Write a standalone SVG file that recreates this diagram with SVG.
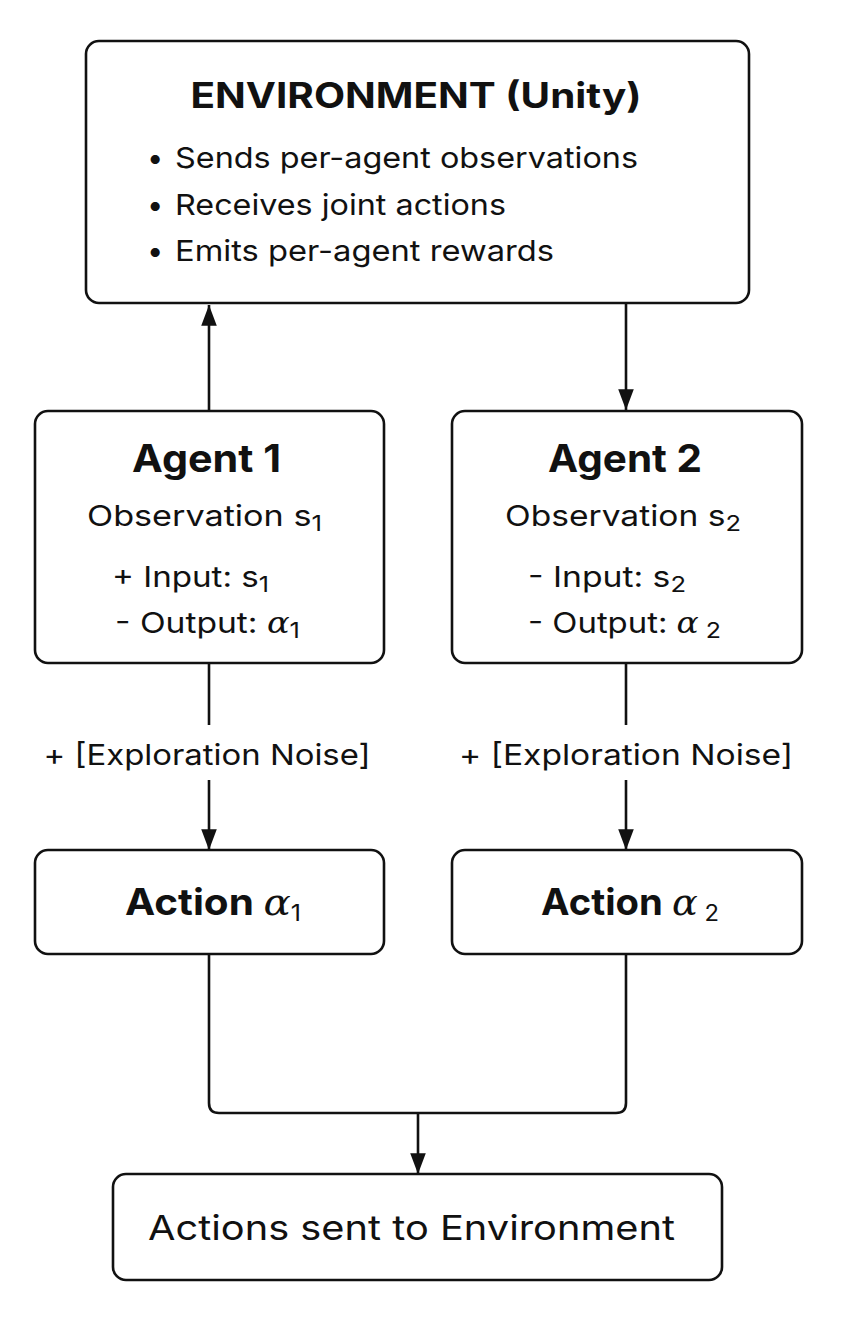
<svg xmlns="http://www.w3.org/2000/svg" width="857" height="1317" viewBox="0 0 857 1317">
<defs>
<marker id="arr" viewBox="0 0 10 10" refX="10" refY="5" markerWidth="8" markerHeight="6" markerUnits="strokeWidth" orient="auto" preserveAspectRatio="none">
<path d="M0,0 L10,5 L0,10 z" fill="#111"/>
</marker>
<style>
.box{fill:#fff;stroke:#111;stroke-width:2.6}
.ln{fill:none;stroke:#111;stroke-width:2.6}
text{font-family:Inter,"Liberation Sans",sans-serif;fill:#111}
.t{font-weight:700}
.b{font-size:29px}
.m{font-size:29px}
.it{font-style:italic;font-family:"DejaVu Serif","Liberation Serif",serif}
</style>
</defs>
<rect width="857" height="1317" fill="#fff"/>
<g id="connectors">
<line class="ln" x1="209" y1="411" x2="209" y2="305" marker-end="url(#arr)"/>
<line class="ln" x1="626" y1="303" x2="626" y2="410" marker-end="url(#arr)"/>
<line class="ln" x1="209" y1="663" x2="209" y2="725"/>
<line class="ln" x1="209" y1="780" x2="209" y2="850" marker-end="url(#arr)"/>
<line class="ln" x1="626" y1="663" x2="626" y2="725"/>
<line class="ln" x1="626" y1="780" x2="626" y2="850" marker-end="url(#arr)"/>
<path class="ln" d="M209,954 V1103 Q209,1113 219,1113 H616 Q626,1113 626,1103 V954"/>
<line class="ln" x1="418" y1="1113" x2="418" y2="1174" marker-end="url(#arr)"/>
<text x="207" y="765" class="b" text-anchor="middle" textLength="327" lengthAdjust="spacingAndGlyphs">+ [Exploration Noise]</text>
<text x="626" y="765" class="b" text-anchor="middle" textLength="334" lengthAdjust="spacingAndGlyphs">+ [Exploration Noise]</text>
</g>
<g id="environment">
<rect class="box" x="86" y="41" width="663" height="262" rx="13"/>
<text x="416" y="108" class="t" font-size="35" text-anchor="middle" textLength="451" lengthAdjust="spacingAndGlyphs">ENVIRONMENT (Unity)</text>
<text x="147" y="168" class="b">•</text>
<text x="175" y="168" class="b" textLength="463" lengthAdjust="spacingAndGlyphs">Sends per-agent observations</text>
<text x="147" y="215" class="b">•</text>
<text x="175" y="215" class="b" textLength="331" lengthAdjust="spacingAndGlyphs">Receives joint actions</text>
<text x="147" y="261" class="b">•</text>
<text x="175" y="261" class="b" textLength="379" lengthAdjust="spacingAndGlyphs">Emits per-agent rewards</text>
</g>
<g id="agent1">
<rect class="box" x="35" y="411" width="349" height="252" rx="13"/>
<text x="132" y="472" class="t" font-size="38" textLength="149" lengthAdjust="spacingAndGlyphs">Agent 1</text>
<text x="87" y="526" class="m" textLength="235" lengthAdjust="spacingAndGlyphs">Observation s<tspan font-size="22" dy="5">1</tspan></text>
<text x="112" y="587" class="m" textLength="157" lengthAdjust="spacingAndGlyphs">+ Input: s<tspan font-size="22" dy="5">1</tspan></text>
<text x="115" y="633" class="m" textLength="185" lengthAdjust="spacingAndGlyphs">- Output: <tspan class="it">α</tspan><tspan font-size="22" dy="5">1</tspan></text>
</g>
<g id="agent2">
<rect class="box" x="452" y="411" width="350" height="252" rx="13"/>
<text x="548" y="472" class="t" font-size="38" textLength="154" lengthAdjust="spacingAndGlyphs">Agent 2</text>
<text x="505" y="526" class="m" textLength="236" lengthAdjust="spacingAndGlyphs">Observation s<tspan font-size="22" dy="5">2</tspan></text>
<text x="528" y="587" class="m" textLength="158" lengthAdjust="spacingAndGlyphs">- Input: s<tspan font-size="22" dy="5">2</tspan></text>
<text x="528" y="633" class="m" textLength="193" lengthAdjust="spacingAndGlyphs">- Output: <tspan class="it">α</tspan><tspan font-size="22" dy="5"> 2</tspan></text>
</g>
<g id="action1">
<rect class="box" x="35" y="850" width="349" height="104" rx="13"/>
<text x="125" y="915" class="t" font-size="37" textLength="176" lengthAdjust="spacingAndGlyphs">Action <tspan class="it" font-weight="400">α</tspan><tspan font-size="23" font-weight="400" dy="6">1</tspan></text>
</g>
<g id="action2">
<rect class="box" x="452" y="850" width="350" height="104" rx="13"/>
<text x="541" y="915" class="t" font-size="37" textLength="178" lengthAdjust="spacingAndGlyphs">Action <tspan class="it" font-weight="400">α</tspan><tspan font-size="23" font-weight="400" dy="6"> 2</tspan></text>
</g>
<g id="actions-sent">
<rect class="box" x="113" y="1174" width="609" height="106" rx="13"/>
<text x="148" y="1240" font-size="34" textLength="527" lengthAdjust="spacingAndGlyphs">Actions sent to Environment</text>
</g>
</svg>
